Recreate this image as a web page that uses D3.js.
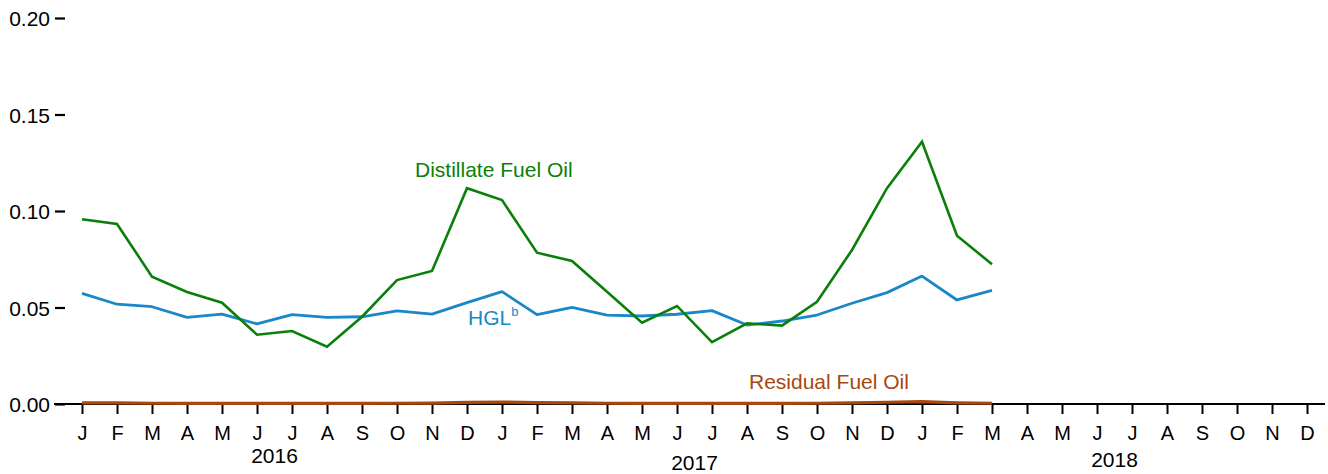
<!DOCTYPE html>
<html>
<head>
<meta charset="utf-8">
<script src="https://cdn.jsdelivr.net/npm/d3@7"></script>
<style>
  html, body { margin: 0; padding: 0; background: #fff; }
  svg { display: block; font-family: "Liberation Sans", Arial, sans-serif; }
</style>
</head>
<body>
<svg id="chart" width="1328" height="474"></svg>
<script>
// Monthly axis: Jan 2016 – Dec 2018
const monthLetters = ["J","F","M","A","M","J","J","A","S","O","N","D"];
const years = ["2016", "2017", "2018"];
const yTicks = [0, 0.05, 0.10, 0.15, 0.20];

// Series values, Jan 2016 – Mar 2018
const distillate = [0.0957, 0.0933, 0.0660, 0.0580, 0.0525, 0.0359, 0.0378, 0.0297, 0.0452, 0.0642, 0.0689, 0.1118,
                    0.1057, 0.0784, 0.0741, 0.0582, 0.0421, 0.0508, 0.0321, 0.0418, 0.0406, 0.0530, 0.0798, 0.1118,
                    0.1359, 0.0872, 0.0724];
const hgl = [0.0573, 0.0517, 0.0504, 0.0449, 0.0466, 0.0415, 0.0463, 0.0449, 0.0452, 0.0482, 0.0466, 0.0525,
             0.0582, 0.0463, 0.0501, 0.0460, 0.0456, 0.0465, 0.0484, 0.0409, 0.0430, 0.0461, 0.0522, 0.0577,
             0.0663, 0.0539, 0.0589];
const residual = [0.0006, 0.0006, 0.0004, 0.0003, 0.0003, 0.0003, 0.0003, 0.0003, 0.0003, 0.0004, 0.0005, 0.0008,
                  0.0010, 0.0007, 0.0006, 0.0004, 0.0003, 0.0003, 0.0003, 0.0003, 0.0003, 0.0004, 0.0006, 0.0009,
                  0.0012, 0.0006, 0.0004];

const colors = { distillate: "#0a800a", hgl: "#1a87c9", residual: "#a8480f" };

const svg = d3.select("#chart");
const nMonths = years.length * 12;

const x = d3.scaleLinear().domain([0, nMonths - 1]).range([82, 1307]);
const y = d3.scaleLinear().domain([0, 0.20]).range([404, 18]);

// Y axis: tick marks and labels only
const yAxis = svg.append("g")
  .attr("transform", "translate(65,0)")
  .call(d3.axisLeft(y).tickValues(yTicks).tickFormat(d3.format(".2f")).tickSize(10).tickPadding(5));
yAxis.select(".domain").remove();
yAxis.selectAll(".tick line").attr("stroke", "#000").attr("stroke-width", 2.2);
yAxis.selectAll(".tick text").attr("font-size", 21).attr("fill", "#000").attr("dy", "0.36em");

// X axis
const xAxis = svg.append("g")
  .attr("transform", "translate(0,404)")
  .call(d3.axisBottom(x).tickValues(d3.range(nMonths))
    .tickFormat(i => monthLetters[i % 12]).tickSize(10).tickPadding(12));
xAxis.select(".domain").remove();
xAxis.selectAll(".tick line").attr("stroke", "#000").attr("stroke-width", 2);
xAxis.selectAll(".tick text").attr("font-size", 20).attr("fill", "#000");

svg.append("line")
  .attr("x1", 54).attr("x2", 1325)
  .attr("y1", y(0)).attr("y2", y(0))
  .attr("stroke", "#000").attr("stroke-width", 2.2);

// Year labels centred under each group of months
const yearBaselines = [463, 470, 467];
svg.append("g").selectAll("text")
  .data(years)
  .join("text")
  .attr("x", (d, i) => (x(i * 12) + x(i * 12 + 11)) / 2)
  .attr("y", (d, i) => yearBaselines[i])
  .attr("text-anchor", "middle")
  .attr("font-size", 21)
  .attr("fill", "#000")
  .text(d => d);

// Series lines
const line = d3.line().x((d, i) => x(i)).y(d => y(d));

svg.append("path").datum(hgl)
  .attr("d", line).attr("fill", "none")
  .attr("stroke", colors.hgl).attr("stroke-width", 2.8).attr("stroke-linejoin", "round");

svg.append("path").datum(distillate)
  .attr("d", line).attr("fill", "none")
  .attr("stroke", colors.distillate).attr("stroke-width", 2.6).attr("stroke-linejoin", "miter");

svg.append("path").datum(residual)
  .attr("d", line).attr("fill", "none")
  .attr("stroke", colors.residual).attr("stroke-width", 3.2).attr("stroke-linejoin", "round");

// Series labels
svg.append("text")
  .attr("x", 415).attr("y", 177)
  .attr("font-size", 21).attr("fill", colors.distillate)
  .text("Distillate Fuel Oil");

const hglLabel = svg.append("text")
  .attr("x", 468).attr("y", 325)
  .attr("font-size", 21).attr("fill", colors.hgl);
hglLabel.append("tspan").text("HGL");
hglLabel.append("tspan").attr("font-size", 13).attr("dy", -9).text("b");

svg.append("text")
  .attr("x", 749).attr("y", 389)
  .attr("font-size", 21).attr("fill", colors.residual)
  .text("Residual Fuel Oil");
</script>
</body>
</html>
